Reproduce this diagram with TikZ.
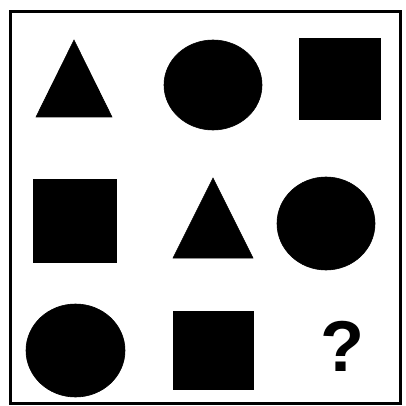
\documentclass[tikz,border=0pt]{standalone}
\usepackage{fontspec}
\newfontfamily\qfont{Liberation Sans}
\begin{document}
\begin{tikzpicture}[x=1pt,y=-1pt,
  shp/.style={fill=black,draw=black,line width=0.6pt}]
\useasboundingbox (0,0) rectangle (405,406);
\fill[white] (0,0) rectangle (405,406);
% frame
\draw[line width=2.2pt] (10.5,11.5) rectangle (400.5,403.5);
% row 1
\filldraw[shp] (74,40) -- (112,117) -- (36,117) -- cycle;
\filldraw[shp] (213,85) ellipse [x radius=49, y radius=45];
\filldraw[shp] (299,38) rectangle (380,119);
% row 2
\filldraw[shp] (33,179) rectangle (116,262);
\filldraw[shp] (213,178) -- (253,258) -- (173,258) -- cycle;
\filldraw[shp] (326,223.5) ellipse [x radius=49, y radius=46.5];
% row 3
\filldraw[shp] (75.5,350.5) ellipse [x radius=49.5, y radius=46.5];
\filldraw[shp] (173,311) rectangle (253,389);
\node[inner sep=0pt, font=\qfont\bfseries\fontsize{72}{72}\selectfont] (q) at (342,346) {?};
\end{tikzpicture}
\end{document}
